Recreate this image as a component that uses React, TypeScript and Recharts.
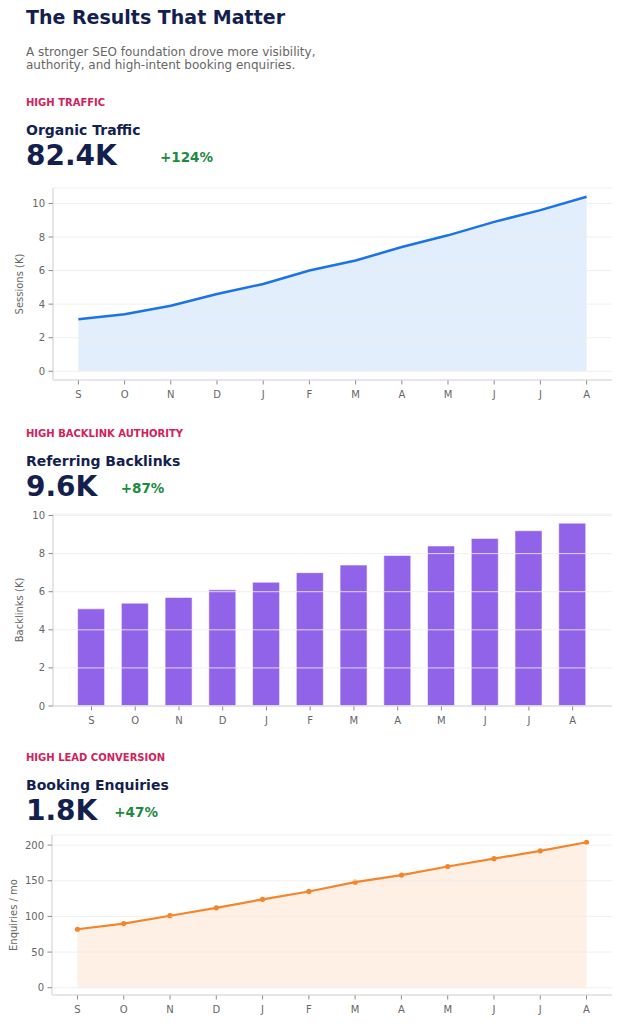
import React from 'react';
import {
  ComposedChart,
  Area,
  Line,
  Bar,
  XAxis,
  YAxis,
  CartesianGrid,
} from 'recharts';

const months = ['S', 'O', 'N', 'D', 'J', 'F', 'M', 'A', 'M', 'J', 'J', 'A'];
const sessions = [3.1, 3.4, 3.9, 4.6, 5.2, 6.0, 6.6, 7.4, 8.1, 8.9, 9.6, 10.4];
const backlinks = [5.1, 5.4, 5.7, 6.1, 6.5, 7.0, 7.4, 7.9, 8.4, 8.8, 9.2, 9.6];
const enquiries = [82, 90, 101, 112, 124, 135, 148, 158, 170, 181, 192, 204];

const sessionTicks = [0, 2, 4, 6, 8, 10];
const backlinkTicks = [0, 2, 4, 6, 8, 10];
const enquiryTicks = [0, 50, 100, 150, 200];
const monthTicks = months.map((_, i) => i);

const NAVY = '#141f4e';
const CRIMSON = '#d3215a';
const GREEN = '#1d8a3e';
const BLUE = '#1a73e8';
const PURPLE = '#9063e8';
const ORANGE = '#f5852a';
const FONT = '"DejaVu Sans", sans-serif';

const sessionData = months.map((m, i) => ({ i, value: sessions[i] }));
const backlinkData = months.map((m, i) => ({ i, value: backlinks[i] }));
const enquiryData = months.map((m, i) => ({ i, value: enquiries[i] }));

const tickStyle = { fontSize: 10, fill: '#666', fontFamily: FONT };
const axisLine = { stroke: '#d9d9d9', strokeWidth: 1.3 };
const tickLine = { stroke: '#8c8c8c' };

function yLabel(value: string, offset: number) {
  return {
    value,
    angle: -90,
    position: 'insideLeft' as const,
    offset,
    style: { textAnchor: 'middle', fontSize: 10, fill: '#666', fontFamily: FONT },
  };
}

// grid sits above fills and bars in the reference, but under the lines
const gridProps = {
  vertical: false,
  stroke: '#ececec',
  strokeOpacity: 0.85,
  zIndex: 1000,
};

function Text(props: { top: number; left?: number; size: number; color: string; bold?: boolean; children: React.ReactNode }) {
  return (
    <div
      style={{
        position: 'absolute',
        top: props.top,
        left: props.left ?? 26,
        fontSize: props.size,
        lineHeight: `${props.size}px`,
        fontWeight: props.bold ? 'bold' : 'normal',
        color: props.color,
        whiteSpace: 'nowrap',
      }}
    >
      {props.children}
    </div>
  );
}

function Header(props: { top: number; label: string; title: string; big: string; pct: string; pctLeft: number }) {
  const t = props.top; // baseline of the small label
  return (
    <>
      <Text top={t - 8.5} size={10} color={CRIMSON} bold>{props.label}</Text>
      <Text top={t + 28 - 11.8} size={14} color={NAVY} bold>{props.title}</Text>
      <Text top={t + 59.4 - 23.7} size={28} color={NAVY} bold>{props.big}</Text>
      <Text top={t + 56 - 11.4} left={props.pctLeft} size={13.5} color={GREEN} bold>{props.pct}</Text>
    </>
  );
}

export default function App() {
  return (
    <div
      style={{
        position: 'absolute',
        left: 0,
        top: 0,
        width: 620,
        height: 1024,
        background: '#fff',
        fontFamily: FONT,
      }}
    >
      <Text top={8} size={19} color={NAVY} bold>The Results That Matter</Text>
      <div
        style={{
          position: 'absolute',
          top: 45.8,
          left: 26,
          fontSize: 12,
          lineHeight: '13.6px',
          color: '#666',
        }}
      >
        A stronger SEO foundation drove more visibility,
        <br />
        authority, and high-intent booking enquiries.
      </div>

      <Header top={106.3} label="HIGH TRAFFIC" title="Organic Traffic" big="82.4K" pct="+124%" pctLeft={160} />
      <div style={{ position: 'absolute', top: 178, left: 0 }}>
        <ComposedChart width={620} height={232} data={sessionData} margin={{ top: 10, right: 8, bottom: 0, left: 0 }}>
          <XAxis
            dataKey="i"
            type="number"
            domain={[-0.55, 11.55]}
            ticks={monthTicks}
            tickFormatter={(v: number) => months[v]}
            allowDataOverflow
            height={30}
            tick={tickStyle}
            axisLine={axisLine}
            tickLine={tickLine}
            tickSize={4.5}
            tickMargin={6}
          />
          <YAxis
            type="number"
            domain={[-0.52, 10.92]}
            ticks={sessionTicks}
            allowDataOverflow
            width={53}
            tick={tickStyle}
            axisLine={axisLine}
            tickLine={tickLine}
            tickSize={4.5}
            tickMargin={3.5}
            label={yLabel('Sessions (K)', 19)}
          />
          <Area dataKey="value" type="linear" stroke="none" fill={BLUE} fillOpacity={0.12} isAnimationActive={false} />
          <CartesianGrid {...gridProps} />
          <Line
            dataKey="value"
            type="linear"
            stroke={BLUE}
            strokeWidth={2.5}
            dot={false}
            zIndex={1100}
            isAnimationActive={false}
          />
        </ComposedChart>
      </div>

      <Header top={437.3} label="HIGH BACKLINK AUTHORITY" title="Referring Backlinks" big="9.6K" pct="+87%" pctLeft={120.7} />
      <div style={{ position: 'absolute', top: 504, left: 0 }}>
        <ComposedChart width={620} height={232} data={backlinkData} margin={{ top: 10, right: 8, bottom: 0, left: 0 }}>
          <XAxis
            dataKey="i"
            type="number"
            domain={[-0.88, 11.9]}
            ticks={monthTicks}
            tickFormatter={(v: number) => months[v]}
            allowDataOverflow
            height={30}
            tick={tickStyle}
            axisLine={axisLine}
            tickLine={tickLine}
            tickSize={4.5}
            tickMargin={6}
          />
          <YAxis
            type="number"
            domain={[0, 10.08]}
            ticks={backlinkTicks}
            allowDataOverflow
            width={53}
            tick={tickStyle}
            axisLine={axisLine}
            tickLine={tickLine}
            tickSize={4.5}
            tickMargin={3.5}
            label={yLabel('Backlinks (K)', 19)}
          />
          <Bar
            dataKey="value"
            barSize={27}
            fill={PURPLE}
            stroke="#ffffff"
            strokeOpacity={0.55}
            strokeWidth={1}
            isAnimationActive={false}
          />
          <CartesianGrid {...gridProps} />
        </ComposedChart>
      </div>

      <Header top={761.7} label="HIGH LEAD CONVERSION" title="Booking Enquiries" big="1.8K" pct="+47%" pctLeft={114.3} />
      <div style={{ position: 'absolute', top: 825, left: 0 }}>
        <ComposedChart width={620} height={200} data={enquiryData} margin={{ top: 10, right: 8, bottom: 0, left: 0 }}>
          <XAxis
            dataKey="i"
            type="number"
            domain={[-0.55, 11.55]}
            ticks={monthTicks}
            tickFormatter={(v: number) => months[v]}
            allowDataOverflow
            height={30}
            tick={tickStyle}
            axisLine={axisLine}
            tickLine={tickLine}
            tickSize={4.5}
            tickMargin={6}
          />
          <YAxis
            type="number"
            domain={[-10.2, 214.2]}
            ticks={enquiryTicks}
            allowDataOverflow
            width={52}
            tick={tickStyle}
            axisLine={axisLine}
            tickLine={tickLine}
            tickSize={4.5}
            tickMargin={3.5}
            label={yLabel('Enquiries / mo', 13)}
          />
          <Area dataKey="value" type="linear" stroke="none" fill={ORANGE} fillOpacity={0.12} isAnimationActive={false} />
          <CartesianGrid {...gridProps} />
          <Line
            dataKey="value"
            type="linear"
            stroke={ORANGE}
            strokeWidth={2.2}
            dot={{ r: 2.6, fill: ORANGE, stroke: ORANGE, strokeWidth: 0 }}
            zIndex={1100}
            isAnimationActive={false}
          />
        </ComposedChart>
      </div>
    </div>
  );
}
